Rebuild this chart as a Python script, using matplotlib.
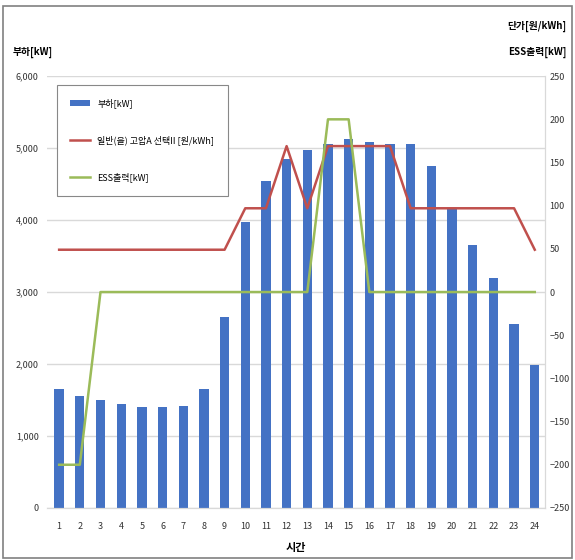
import matplotlib.pyplot as plt
import numpy as np
from matplotlib.ticker import FuncFormatter

plt.rcParams['font.family'] = ['Noto Sans CJK KR', 'DejaVu Sans']

# hourly data
hours = list(range(1, 25))
load_kw = [1650, 1560, 1500, 1450, 1400, 1400, 1420, 1650, 2650, 3980, 4550, 4850,
           4980, 5060, 5120, 5080, 5060, 5060, 4750, 4150, 3650, 3200, 2550, 1980]
price = [49, 49, 49, 49, 49, 49, 49, 49, 49, 97, 97, 169,
         97, 169, 169, 169, 169, 97, 97, 97, 97, 97, 97, 49]
ess_kw = [-200, -200, 0, 0, 0, 0, 0, 0, 0, 0, 0, 0,
          0, 200, 200, 0, 0, 0, 0, 0, 0, 0, 0, 0]

left_ticks = [0, 1000, 2000, 3000, 4000, 5000, 6000]
right_ticks = [-250, -200, -150, -100, -50, 0, 50, 100, 150, 200, 250]

fig = plt.figure(figsize=(5.75, 5.6), dpi=100)
# outer frame like the original image
fig.patches.append(plt.Rectangle((0.006, 0.004), 0.988, 0.986, transform=fig.transFigure,
                                 fill=False, edgecolor='#808080', linewidth=1.2))

ax = fig.add_axes([0.082, 0.093, 0.866, 0.771])
ax2 = ax.twinx()

bars = ax.bar(hours, load_kw, width=0.45, color='#4472C4', label='부하[kW]', zorder=2)
l1, = ax2.plot(hours, price, color='#C0504D', linewidth=1.8,
               label='일반(을) 고압A 선택II [원/kWh]')
l2, = ax2.plot(hours, ess_kw, color='#9BBB59', linewidth=1.8, label='ESS출력[kW]')

ax.set_xlim(0.42, 24.5)
ax.set_ylim(0, 6000)
ax2.set_ylim(-250, 250)
ax.set_xticks(hours)
ax.set_yticks(left_ticks)
ax2.set_yticks(right_ticks)
ax.yaxis.set_major_formatter(FuncFormatter(lambda v, p: f'{int(v):,}'))

ax.grid(axis='y', color='#D9D9D9', linewidth=1, zorder=0)
ax.set_axisbelow(True)
for a in (ax, ax2):
    a.tick_params(labelsize=6.5, length=0, colors='#333333', pad=6)
    a.spines['top'].set_visible(False)
    a.spines['left'].set_visible(False)
    a.spines['bottom'].set_color('#D9D9D9')
    a.spines['right'].set_color('#D9D9D9')
ax.tick_params(axis='x', pad=10)
ax2.tick_params(axis='y', pad=3)

ax.set_xlabel('시간', fontsize=8, fontweight='bold', labelpad=7)
fig.text(0.022, 0.907, '부하[kW]', fontsize=7, fontweight='bold', va='center')
fig.text(0.985, 0.952, '단가[원/kWh]', fontsize=7, fontweight='bold', va='center', ha='right')
fig.text(0.985, 0.907, 'ESS출력[kW]', fontsize=7, fontweight='bold', va='center', ha='right')

handles = [bars, l1, l2]
leg = ax2.legend(handles=handles, labels=[h.get_label() for h in handles],
                 loc='upper left', bbox_to_anchor=(0.01, 0.99), fontsize=6.5,
                 frameon=True, fancybox=False, edgecolor='#888888', labelspacing=3.0,
                 borderpad=1.5, handlelength=2.2, handleheight=0.6, framealpha=1)
leg.get_frame().set_linewidth(0.8)

fig.savefig('out.png', dpi=100)
